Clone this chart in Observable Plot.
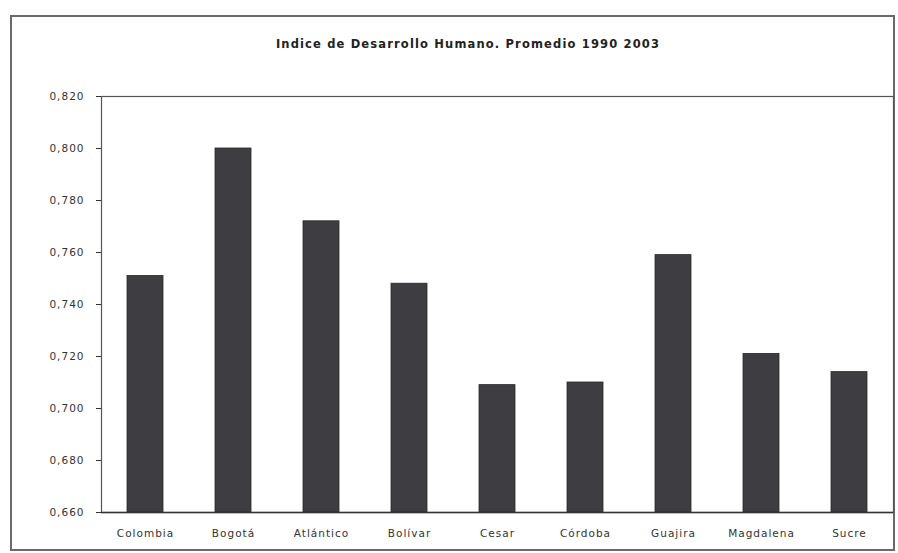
<!DOCTYPE html>
<html>
<head>
<meta charset="utf-8">
<script src="https://cdn.jsdelivr.net/npm/d3@7"></script>
<script src="https://cdn.jsdelivr.net/npm/@observablehq/plot@0.6"></script>
<style>
  html, body { margin: 0; padding: 0; background: #fff; }
  #wrap { position: relative; width: 898px; height: 553px; overflow: hidden; font-family: "DejaVu Sans", sans-serif; }
  #frame { position: absolute; left: 10px; top: 15px; width: 885px; height: 536px; border: 2px solid #6a6a6a; box-sizing: border-box; }
  #title { position: absolute; top: 37px; left: 0; width: 936px; text-align: center; font-size: 11.5px; font-weight: bold; letter-spacing: 1.15px; color: #222; }
  #chart { position: absolute; left: 0; top: 0; }
  #chart svg text { letter-spacing: 1px; }
</style>
</head>
<body>
<div id="wrap">
  <div id="frame"></div>
  <div id="title">Indice de Desarrollo Humano. Promedio 1990 2003</div>
  <div id="chart"></div>
</div>
<script>
const categories = ["Colombia", "Bogotá", "Atlántico", "Bolívar", "Cesar", "Córdoba", "Guajira", "Magdalena", "Sucre"];
const values = [0.751, 0.800, 0.772, 0.748, 0.709, 0.710, 0.759, 0.721, 0.714];
const yTicks = [0.66, 0.68, 0.70, 0.72, 0.74, 0.76, 0.78, 0.80, 0.82];

const data = categories.map((c, i) => ({category: c, value: values[i]}));
const fmt = v => v.toFixed(3).replace(".", ",");

const chart = Plot.plot({
  width: 898,
  height: 553,
  marginLeft: 101,
  marginRight: 5,
  marginTop: 96,
  marginBottom: 41,
  style: {fontFamily: "'DejaVu Sans', sans-serif", fontSize: "10.5px", color: "#333", background: "transparent"},
  x: {domain: categories, paddingInner: 0.59, paddingOuter: 0.295, label: null, tickSize: 0, tickPadding: 17},
  y: {domain: [0.66, 0.82], ticks: yTicks, tickFormat: fmt, label: null, tickSize: 5, tickPadding: 12},
  marks: [
    Plot.barY(data, {x: "category", y1: 0.66, y2: "value", fill: "#3d3d42", stroke: "#2a2a2a", strokeWidth: 0.8}),
    Plot.frame({stroke: "#555", strokeWidth: 1.2}),
    Plot.ruleY([0.66], {stroke: "#333", strokeWidth: 1.5})
  ]
});
document.getElementById("chart").appendChild(chart);
</script>
</body>
</html>
